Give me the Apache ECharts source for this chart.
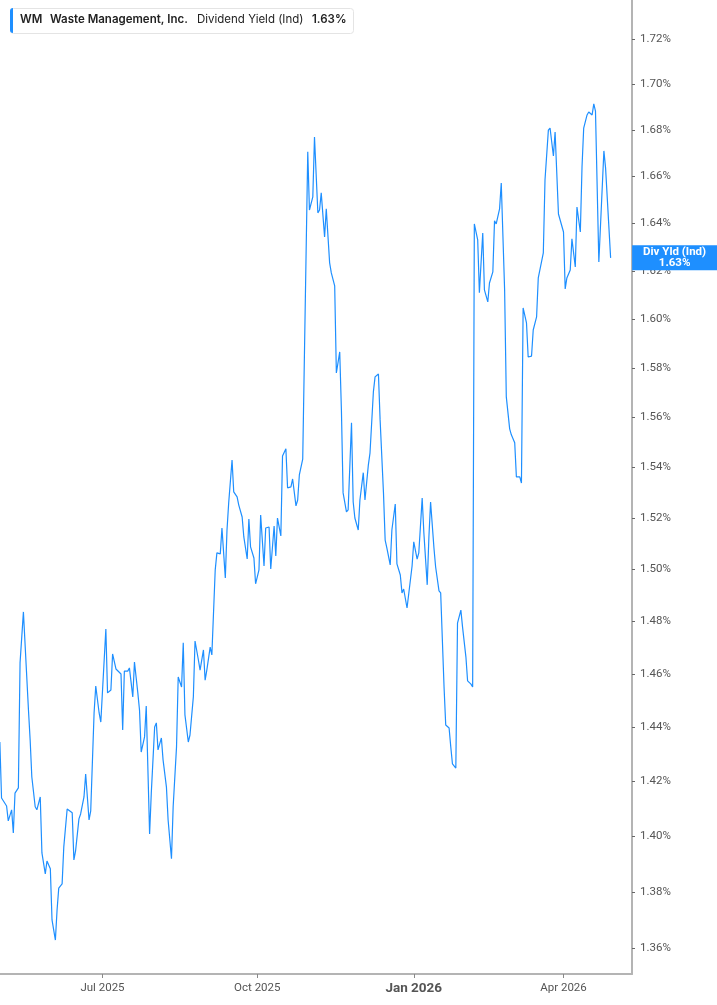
<!DOCTYPE html>
<html><head><meta charset="utf-8">
<script src="https://cdn.jsdelivr.net/npm/echarts@6/dist/echarts.min.js"></script>
<style>html,body{margin:0;padding:0;background:#fff}#c{width:717px;height:1005px}</style>
</head><body><div id="c"></div>
<script>
const dates = [
'2025-05-01','2025-05-02','2025-05-03','2025-05-05','2025-05-06','2025-05-08','2025-05-09','2025-05-10','2025-05-12','2025-05-13','2025-05-15','2025-05-16','2025-05-18','2025-05-19','2025-05-20','2025-05-22','2025-05-23','2025-05-25','2025-05-26','2025-05-28','2025-05-29','2025-05-31',
'2025-06-01','2025-06-03','2025-06-04','2025-06-05','2025-06-07','2025-06-08','2025-06-10','2025-06-11','2025-06-13','2025-06-14','2025-06-15','2025-06-17','2025-06-18','2025-06-20','2025-06-21','2025-06-23','2025-06-24','2025-06-26','2025-06-27','2025-06-29','2025-06-30',
'2025-07-01','2025-07-03','2025-07-04','2025-07-06','2025-07-07','2025-07-09','2025-07-10','2025-07-12','2025-07-13','2025-07-14','2025-07-16','2025-07-17','2025-07-19','2025-07-20','2025-07-22','2025-07-23','2025-07-24','2025-07-26','2025-07-27','2025-07-29','2025-07-30',
'2025-08-01','2025-08-02','2025-08-03','2025-08-05','2025-08-06','2025-08-08','2025-08-09','2025-08-11','2025-08-12','2025-08-14','2025-08-15','2025-08-17','2025-08-18','2025-08-19','2025-08-21','2025-08-22','2025-08-24','2025-08-25','2025-08-27','2025-08-28','2025-08-30','2025-08-31',
'2025-09-01','2025-09-03','2025-09-04','2025-09-06','2025-09-07','2025-09-09','2025-09-10','2025-09-12','2025-09-13','2025-09-14','2025-09-16','2025-09-17','2025-09-19','2025-09-20','2025-09-22','2025-09-23','2025-09-25','2025-09-26','2025-09-27','2025-09-29','2025-09-30',
'2025-10-02','2025-10-03','2025-10-05','2025-10-06','2025-10-08','2025-10-09','2025-10-11','2025-10-12','2025-10-13','2025-10-15','2025-10-16','2025-10-18','2025-10-19','2025-10-21','2025-10-22','2025-10-24','2025-10-25','2025-10-26','2025-10-28','2025-10-31',
'2025-11-01','2025-11-03','2025-11-04','2025-11-06','2025-11-07','2025-11-08','2025-11-10','2025-11-11','2025-11-13','2025-11-14','2025-11-16','2025-11-17','2025-11-19','2025-11-20','2025-11-21','2025-11-23','2025-11-24','2025-11-26','2025-11-27','2025-11-28','2025-11-30',
'2025-12-01','2025-12-03','2025-12-04','2025-12-06','2025-12-07','2025-12-09','2025-12-10','2025-12-12','2025-12-13','2025-12-15','2025-12-16','2025-12-17','2025-12-19','2025-12-20','2025-12-22','2025-12-23','2025-12-25','2025-12-26','2025-12-27','2025-12-29','2025-12-30',
'2026-01-01','2026-01-02','2026-01-04','2026-01-05','2026-01-07','2026-01-08','2026-01-10','2026-01-11','2026-01-12','2026-01-14','2026-01-15','2026-01-17','2026-01-18','2026-01-20','2026-01-21','2026-01-23','2026-01-24','2026-01-25','2026-01-27','2026-01-28','2026-01-30','2026-01-31',
'2026-02-02','2026-02-03','2026-02-05','2026-02-06','2026-02-07','2026-02-09','2026-02-10','2026-02-12','2026-02-13','2026-02-15','2026-02-16','2026-02-18','2026-02-19','2026-02-20','2026-02-22','2026-02-23','2026-02-25','2026-02-26','2026-02-28',
'2026-03-01','2026-03-03','2026-03-04','2026-03-06','2026-03-07','2026-03-08','2026-03-10','2026-03-11','2026-03-13','2026-03-14','2026-03-16','2026-03-17','2026-03-18','2026-03-20','2026-03-21','2026-03-23','2026-03-24','2026-03-26','2026-03-27','2026-03-29','2026-03-30',
'2026-04-01','2026-04-02','2026-04-03','2026-04-05','2026-04-06','2026-04-08','2026-04-09','2026-04-11','2026-04-12','2026-04-13','2026-04-15','2026-04-16','2026-04-18','2026-04-19','2026-04-20','2026-04-22','2026-04-25','2026-04-26','2026-04-29'
];
const values = [
1.4345,1.4139,1.4136,1.4110,1.4056,1.4096,1.4012,1.4157,1.4176,1.4641,1.4835,1.4831,1.4464,1.4353,1.4216,1.4107,1.4096,1.4143,1.3940,1.3865,1.3911,1.3883,
1.3701,1.3630,1.3736,1.3814,1.3829,1.3962,1.4099,1.4099,1.4085,1.3915,1.3947,1.4063,1.4081,1.4143,1.4227,1.4059,1.4092,1.4453,1.4554,1.4453,1.4419,
1.4419,1.4770,1.4528,1.4539,1.4675,1.4618,1.4622,1.4599,1.4390,1.4610,1.4610,1.4622,1.4513,1.4644,1.4528,1.4464,1.4308,1.4364,1.4479,1.4008,1.4157,
1.4401,1.4416,1.4316,1.4360,1.4279,1.4179,1.4059,1.3919,1.4107,1.4327,1.4588,1.4550,1.4717,1.4446,1.4345,1.4371,1.4513,1.4724,1.4652,1.4614,1.4690,1.4576,
1.4614,1.4701,1.4671,1.4997,1.5063,1.5059,1.5160,1.4966,1.5152,1.5258,1.5428,1.5302,1.5282,1.5250,1.5203,1.5125,1.5039,1.5195,1.5086,1.5043,1.4943,
1.4997,1.5211,1.5012,1.5160,1.5164,1.5000,1.5168,1.5051,1.5199,1.5129,1.5444,1.5473,1.5318,1.5322,1.5353,1.5247,1.5270,1.5369,1.5432,1.6706,
1.6457,1.6513,1.6770,1.6445,1.6457,1.6530,1.6343,1.6462,1.6234,1.6192,1.6138,1.5779,1.5865,1.5629,1.5298,1.5223,1.5231,1.5577,1.5262,1.5199,1.5152,
1.5270,1.5378,1.5270,1.5408,1.5457,1.5702,1.5763,1.5775,1.5589,1.5298,1.5113,1.5082,1.5016,1.5152,1.5254,1.5020,1.4977,1.4908,1.4923,1.4850,1.4854,
1.5012,1.5106,1.5039,1.5063,1.5278,1.5141,1.4939,1.5125,1.5262,1.5082,1.5008,1.4916,1.4908,1.4550,1.4408,1.4397,1.4327,1.4264,1.4249,1.4792,1.4842,1.4777,
1.4663,1.4573,1.4561,1.4550,1.6398,1.6331,1.6109,1.6360,1.6121,1.6071,1.6150,1.6196,1.6411,1.6398,1.6462,1.6572,1.6121,1.5682,1.5553,
1.5529,1.5497,1.5361,1.5361,1.5337,1.6046,1.5984,1.5844,1.5848,1.5955,1.6009,1.6171,1.6167,1.6276,1.6585,1.6800,1.6809,1.6688,1.6792,1.6440,1.6445,
1.6364,1.6125,1.6171,1.6204,1.6335,1.6217,1.6470,1.6364,1.6641,1.6809,1.6866,1.6879,1.6866,1.6914,1.6883,1.6238,1.6710,1.6637,1.6255
];
const yTicks = [1.36,1.38,1.40,1.42,1.44,1.46,1.48,1.50,1.52,1.54,1.56,1.58,1.60,1.62,1.64,1.66,1.68,1.70,1.72];
const xTicks = ['2025-07-01','2025-10-01','2026-01-02','2026-04-01'];
const yMin = 1.3511, yMax = 1.7374;
const xMin = '2025-05-01 02:00', xMax = '2026-05-11 17:00';
const ticker = 'WM', company = 'Waste Management, Inc.', metric = 'Dividend Yield (Ind)', endTitle = 'Div Yld (Ind)';
const currentYield = 1.63;
const MONTHS = ['Jan','Feb','Mar','Apr','May','Jun','Jul','Aug','Sep','Oct','Nov','Dec'];
const blue = '#1e8fff';

function toTime(s) {
  const p = s.split(/[- :]/).map(Number);
  return new Date(p[0], p[1] - 1, p[2], p[3] || 0, p[4] || 0).getTime();
}

const chart = echarts.init(document.getElementById('c'), null, {renderer: 'canvas'});
chart.setOption({
  animation: false,
  backgroundColor: '#fff',
  grid: {left: 0, right: 85, top: 0, bottom: 31, containLabel: false},
  xAxis: {
    type: 'value', min: toTime(xMin), max: toTime(xMax), scale: true,
    axisLine: {show: true, lineStyle: {color: '#b4b4b4', width: 2}},
    axisTick: {show: true, customValues: xTicks.map(toTime), length: 4, lineStyle: {color: '#888', width: 1}},
    axisLabel: {
      customValues: xTicks.map(toTime), margin: 8,
      formatter: function (v) {
        const d = new Date(v);
        const s = MONTHS[d.getMonth()] + ' ' + d.getFullYear();
        return d.getMonth() === 0 ? '{b|' + s + '}' : '{n|' + s + '}';
      },
      rich: {
        n: {fontFamily: 'Roboto', fontSize: 11.5, color: '#555'},
        b: {fontFamily: 'Roboto', fontSize: 13.5, fontWeight: 'bold', color: '#555'}
      }
    },
    splitLine: {show: false}
  },
  yAxis: {
    type: 'value', position: 'right', scale: true,
    min: Math.log(yMin), max: Math.log(yMax),
    axisLine: {show: true, lineStyle: {color: '#b4b4b4', width: 2}},
    axisTick: {show: true, customValues: yTicks.map(Math.log), length: 3, lineStyle: {color: '#666', width: 1}},
    axisLabel: {
      customValues: yTicks.map(Math.log), margin: 8,
      formatter: function (v) { return Math.exp(v).toFixed(2) + '%'; },
      fontFamily: 'Roboto', fontSize: 11.5, color: '#555'
    },
    splitLine: {show: false}
  },
  series: [{
    type: 'line',
    data: dates.map(function (d, i) { return [toTime(d), Math.log(values[i])]; }),
    showSymbol: false, symbol: 'none', smooth: false,
    lineStyle: {color: blue, width: 1.2},
    itemStyle: {color: blue},
    endLabel: {
      show: true,
      formatter: endTitle + '\n' + currentYield.toFixed(2) + '%',
      distance: 64,
      backgroundColor: blue, color: '#fff',
      fontFamily: 'Roboto', fontSize: 11.5, fontWeight: 'bold',
      lineHeight: 11, width: 77, align: 'center',
      padding: [2, 4, 1, 4]
    }
  }],
  graphic: [
    {type: 'rect', left: 10, top: 8, shape: {width: 343, height: 25, r: 3}, style: {fill: '#fff', stroke: '#e4e4e4', lineWidth: 1}},
    {type: 'rect', left: 10, top: 8, shape: {width: 3, height: 25, r: [3, 0, 0, 3]}, style: {fill: blue}},
    {type: 'text', left: 20, top: 14, style: {text: ticker, font: '600 11.5px Inter', fill: '#222'}},
    {type: 'text', left: 50, top: 14, style: {text: company, font: '600 11.5px Inter', fill: '#222'}},
    {type: 'text', left: 197, top: 14, style: {text: metric, font: '400 11.5px Inter', fill: '#222'}},
    {type: 'text', left: 312, top: 14, style: {text: currentYield.toFixed(2) + '%', font: '600 11.5px Inter', fill: '#222'}}
  ]
});
</script></body></html>
